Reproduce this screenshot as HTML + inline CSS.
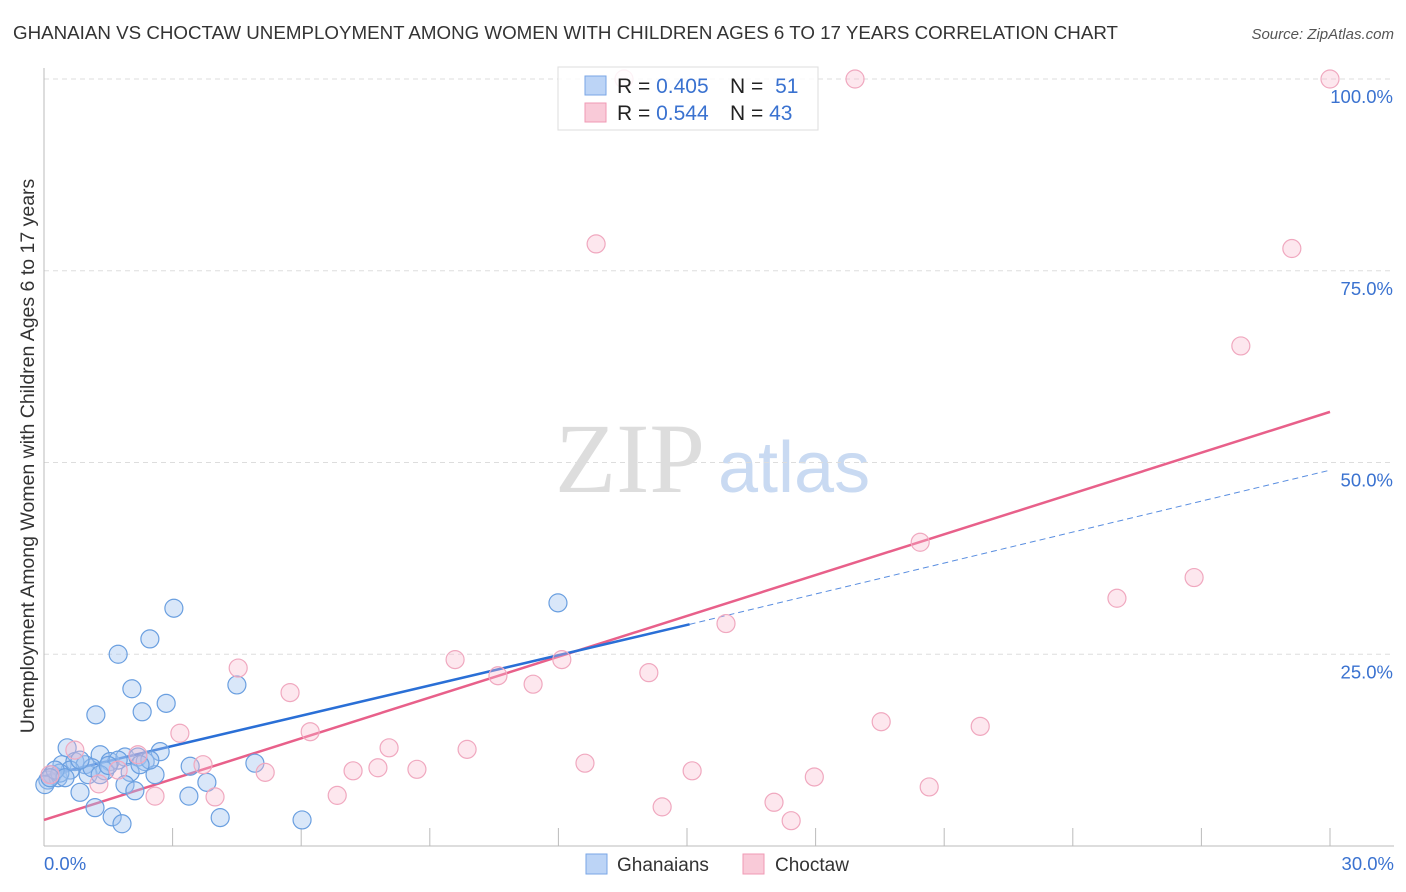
<!DOCTYPE html>
<html><head><meta charset="utf-8"><style>
body{margin:0;background:#fff;font-family:"Liberation Sans",sans-serif;}
#wrap{position:relative;width:1406px;height:892px;overflow:hidden;}
</style></head><body>
<div id="wrap">
<svg id="svg" width="1406" height="892" xmlns="http://www.w3.org/2000/svg">
<text x="13" y="39" font-size="18" fill="#333" textLength="1105" lengthAdjust="spacingAndGlyphs">GHANAIAN VS CHOCTAW UNEMPLOYMENT AMONG WOMEN WITH CHILDREN AGES 6 TO 17 YEARS CORRELATION CHART</text>
<text x="1394" y="39" font-size="15" fill="#555" font-style="italic" text-anchor="end">Source: ZipAtlas.com</text>
<text transform="translate(34,456) rotate(-90)" font-size="19.5" fill="#333" text-anchor="middle">Unemployment Among Women with Children Ages 6 to 17 years</text>
<text x="555" y="492" font-size="100" fill="#ddd" font-family="Liberation Serif,serif">ZIP</text>
<text x="718" y="492" font-size="72" fill="#c9daf2">atlas</text>
<g id="grid"></g><g id="axes"></g><g id="lines"></g><g id="pts"></g>
<g>
<rect x="558" y="67" width="260" height="63" fill="#fff" fill-opacity="0.85" stroke="#ddd"/>
<rect x="585" y="76" width="21" height="19" fill="#bcd4f6" stroke="#7aa6e6"/>
<rect x="585" y="103" width="21" height="19" fill="#f9cad8" stroke="#f09ab4"/>
<text x="617" y="93" font-size="21" fill="#222">R = <tspan fill="#3a72d0">0.405</tspan></text>
<text x="730" y="93" font-size="21" fill="#222">N = <tspan fill="#3a72d0" dx="6">51</tspan></text>
<text x="617" y="120" font-size="21" fill="#222">R = <tspan fill="#3a72d0">0.544</tspan></text>
<text x="730" y="120" font-size="21" fill="#222">N = <tspan fill="#3a72d0">43</tspan></text>
</g>
<g>
<rect x="586" y="854" width="21" height="20" fill="#bcd4f6" stroke="#7aa6e6"/>
<text x="617" y="871" font-size="19" fill="#333">Ghanaians</text>
<rect x="743" y="854" width="21" height="20" fill="#f9cad8" stroke="#f09ab4"/>
<text x="775" y="871" font-size="19" fill="#333">Choctaw</text>
</g>
</svg></div>
<script>
const blueX=[3.03,2.47,1.73,2.05,2.85,4.50,1.21,2.29,11.99,0.54,1.31,0.42,0.72,0.96,1.54,1.89,2.19,2.36,2.71,3.41,1.42,2.01,2.59,0.19,0.33,0.09,1.03,3.80,1.89,2.12,0.84,3.38,1.19,1.59,1.82,4.11,6.02,4.92,0.61,0.02,2.47,1.12,0.37,0.26,2.24,1.31,1.73,0.84,0.49,0.14,1.5];
const blueY=[31.0,27.0,25.0,20.5,18.6,21.0,17.1,17.5,31.7,12.8,11.9,10.6,11.0,10.6,11.0,11.6,11.6,11.0,12.3,10.4,9.8,9.6,9.3,9.3,8.9,8.6,9.3,8.3,8.0,7.2,7.0,6.5,5.0,3.8,2.9,3.7,3.4,10.8,9.9,8.0,11.2,10.2,9.5,9.9,10.6,9.3,11.2,11.2,8.9,8.9,10.5];
const pinkX=[13.53,18.92,30,12.88,29.11,27.92,20.44,26.83,25.03,15.91,4.53,9.59,12.08,5.74,10.59,11.41,14.11,19.53,21.84,3.17,6.21,8.05,9.87,2.19,0.72,3.71,7.79,7.21,8.70,12.62,15.12,5.16,1.73,1.28,2.59,3.99,6.84,17.97,20.65,14.42,17.03,17.43,0.14];
const pinkY=[100,100,100,78.5,77.9,65.2,39.6,35.0,32.3,29.0,23.2,24.3,24.3,20.0,22.2,21.1,22.6,16.2,15.6,14.7,14.9,12.8,12.6,11.9,12.5,10.6,10.2,9.8,10.0,10.8,9.8,9.6,9.9,8.1,6.5,6.4,6.6,9.0,7.7,5.1,5.7,3.3,9.3];
const blueLine=[[0,9.1],[15.06,28.9],[30,49.0]];
const pinkLine=[[0,3.4],[30,56.6]];
const yTicks=[25,50,75,100];
const xTicks=[3,6,9,12,15,18,21,24,27,30];
const NS='http://www.w3.org/2000/svg';
const sx=v=>44+v/30*1286, sy=v=>846-v/100*767;
function mk(tag,attrs,parent){const e=document.createElementNS(NS,tag);for(const k in attrs)e.setAttribute(k,attrs[k]);document.getElementById(parent).appendChild(e);return e;}
yTicks.forEach(t=>{
 const l=mk('line',{x1:44,x2:1394,y1:sy(t),y2:sy(t),stroke:'#ddd','stroke-dasharray':'5,4'},'grid');
 
 
 const tx=mk('text',{x:1393,y:sy(t)+24,'font-size':18.5,fill:'#3a72d0','text-anchor':'end'},'grid');
 tx.textContent=t.toFixed(1)+'%';
 
 
});
const ya=mk('line',{x1:44,x2:44,y1:68,y2:846,stroke:'#bbb'},'axes');


const xa=mk('line',{x1:44,x2:1394,y1:846,y2:846,stroke:'#bbb'},'axes');


xTicks.forEach(t=>{
 const l=mk('line',{x1:sx(t),x2:sx(t),y1:828,y2:846,stroke:'#bbb'},'axes');
 
 
});
const x0=mk('text',{x:44,y:870,'font-size':18.5,fill:'#3a72d0'},'axes');x0.textContent='0.0%';


const x1=mk('text',{x:1394,y:870,'font-size':18.5,fill:'#3a72d0','text-anchor':'end'},'axes');x1.textContent='30.0%';


blueX.forEach((v,i)=>{
 const c=mk('circle',{cx:sx(v),cy:sy(blueY[i]),r:9,fill:'rgba(160,195,240,0.4)',stroke:'#6a9fe0','stroke-width':1.2},'pts');
 
 
});
pinkX.forEach((v,i)=>{
 const c=mk('circle',{cx:sx(v),cy:sy(pinkY[i]),r:9,fill:'rgba(248,185,205,0.35)',stroke:'#f0a8bf','stroke-width':1.2},'pts');
 
 
});
const pl=mk('line',{x1:sx(pinkLine[0][0]),y1:sy(pinkLine[0][1]),x2:sx(pinkLine[1][0]),y2:sy(pinkLine[1][1]),stroke:'#e8608a','stroke-width':2.5},'lines');


const bl=mk('line',{x1:sx(blueLine[0][0]),y1:sy(blueLine[0][1]),x2:sx(blueLine[1][0]),y2:sy(blueLine[1][1]),stroke:'#2a6fd6','stroke-width':2.5},'lines');


const bd=mk('line',{x1:sx(blueLine[1][0]),y1:sy(blueLine[1][1]),x2:sx(blueLine[2][0]),y2:sy(blueLine[2][1]),stroke:'#5a8ee0','stroke-width':1,'stroke-dasharray':'6,4'},'lines');


</script>
</body></html>
